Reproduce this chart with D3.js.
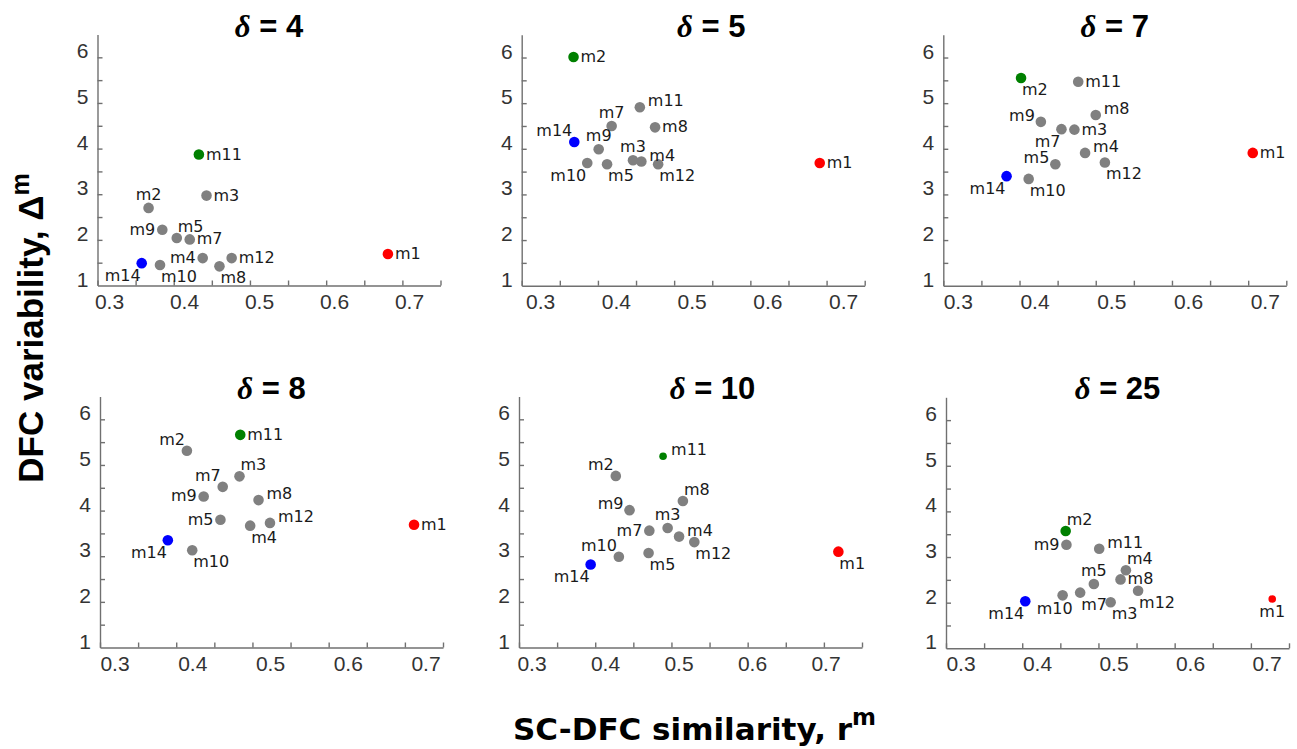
<!DOCTYPE html>
<html>
<head>
<meta charset="utf-8">
<script src="https://cdn.jsdelivr.net/npm/d3@7"></script>
<style>
	body { margin: 0; background: #fff; }
</style>
</head>
<body>
<script>
// data //{{{
var deltas = [4, 5, 7, 8, 10, 25];
var models = ["m1", "m2", "m3", "m4", "m5", "m7", "m8", "m9", "m10", "m11", "m12", "m14"];

// SC-DFC similarity r^m, one array per delta, in models order
var sim_d4  = [0.681, 0.367, 0.443, 0.438, 0.404, 0.421, 0.460, 0.385, 0.382, 0.433, 0.476, 0.358];
var sim_d5  = [0.691, 0.368, 0.446, 0.457, 0.412, 0.418, 0.475, 0.401, 0.386, 0.455, 0.479, 0.369];
var sim_d7  = [0.706, 0.402, 0.472, 0.486, 0.447, 0.455, 0.500, 0.428, 0.412, 0.477, 0.512, 0.383];
var sim_d8  = [0.712, 0.414, 0.483, 0.497, 0.458, 0.461, 0.508, 0.436, 0.421, 0.484, 0.523, 0.389];
var sim_d10 = [0.719, 0.427, 0.495, 0.510, 0.470, 0.471, 0.515, 0.445, 0.431, 0.489, 0.530, 0.394];
var sim_d25 = [0.728, 0.457, 0.516, 0.536, 0.494, 0.476, 0.529, 0.458, 0.453, 0.501, 0.552, 0.404];

// DFC variability Delta^m
var var_d4  = [1.69, 2.70, 2.97, 1.60, 2.04, 2.01, 1.42, 2.22, 1.45, 3.87, 1.60, 1.49];
var var_d5  = [3.69, 6.01, 3.75, 3.72, 3.66, 4.50, 4.47, 3.99, 3.69, 4.91, 3.66, 4.15];
var var_d7  = [3.91, 5.55, 4.42, 3.91, 3.66, 4.43, 4.74, 4.59, 3.34, 5.47, 3.70, 3.40];
var var_d8  = [3.69, 5.31, 4.75, 3.67, 3.80, 4.52, 4.23, 4.31, 3.13, 5.66, 3.73, 3.35];
var var_d10 = [3.10, 4.76, 3.62, 3.43, 3.07, 3.56, 4.21, 4.01, 2.99, 5.19, 3.31, 2.82];
var var_d25 = [2.08, 3.57, 2.01, 2.71, 2.41, 2.22, 2.51, 3.27, 2.16, 3.18, 2.26, 2.03];

var red_model   = "m1";
var blue_model  = "m14";
var green_model = ["m11", "m2", "m2", "m11", "m11", "m2"];

var x_ticks = [0.3, 0.35, 0.4, 0.45, 0.5, 0.55, 0.6, 0.65, 0.7, 0.75];
var x_labels = [0.3, 0.4, 0.5, 0.6, 0.7];
var y_ticks = [1.5, 2, 2.5, 3, 3.5, 4, 4.5, 5, 5.5, 6];
var y_labels = [1, 2, 3, 4, 5, 6];
//}}}
// label spots (r l ur ul a ar al b bw br bl), in models order //{{{
var spots = [
	["r", "a", "r", "l", "ar", "r", "br", "l", "br", "r", "r", "bl"],
	["r", "r", "a", "ur", "br", "a", "r", "a", "bl", "ur", "br", "al"],
	["r", "br", "r", "ur", "ul", "bl", "ur", "ul", "br", "r", "br", "bl"],
	["r", "al", "ar", "br", "l", "al", "ur", "l", "br", "r", "ur", "bl"],
	["br", "al", "a", "ur", "br", "l", "ar", "ul", "al", "ur", "br", "bl"],
	["b", "ar", "br", "ar", "a", "br", "r", "l", "bw", "ur", "br", "bl"]
];
var spot_geom = {
	r:  { a: "start",  dx: 7,  dy: 5 },
	l:  { a: "end",    dx: -7, dy: 5 },
	ur: { a: "start",  dx: 8,  dy: -1 },
	ul: { a: "end",    dx: -6, dy: -1 },
	a:  { a: "middle", dx: 0,  dy: -8 },
	ar: { a: "start",  dx: 1,  dy: -6 },
	al: { a: "end",    dx: -2, dy: -6 },
	b:  { a: "middle", dx: 0,  dy: 18 },
	bw: { a: "middle", dx: -8, dy: 19 },
	br: { a: "start",  dx: 1,  dy: 17 },
	bl: { a: "end",    dx: -1, dy: 18 }
};
//}}}
// layout //{{{
var W = 1297, H = 749;
var pw = 343, ph = 251;
var sans = "'Liberation Sans', Arial, sans-serif";
var dejavu = "'DejaVu Sans', sans-serif";
var panels = [
	{ left: 97.5,  bottom: 285.5, lab: [12, 312], tdx: 0,  small: null },
	{ left: 521.7, bottom: 285.7, lab: [19, 322], tdx: 18, small: null },
	{ left: 943.3, bottom: 285.7, lab: [15, 322], tdx: 0,  small: null },
	{ left: 100,   bottom: 647.5, lab: [15, 326], tdx: 0,  small: null },
	{ left: 519,   bottom: 647.5, lab: [13, 307], tdx: 22, small: "m11" },
	{ left: 946,   bottom: 648.3, lab: [15, 321], tdx: 0,  small: "m1" }
];
var sims = [sim_d4, sim_d5, sim_d7, sim_d8, sim_d10, sim_d25];
var vars = [var_d4, var_d5, var_d7, var_d8, var_d10, var_d25];
//}}}

var svg = d3.select("body").append("svg").attr("width", W).attr("height", H);
svg.append("rect").attr("width", W).attr("height", H).attr("fill", "#fff");

var x = d3.scaleLinear().domain([0.3, 0.75]).range([0, pw]);
var y = d3.scaleLinear().domain([1, 6.5]).range([ph, 0]);

function dot_color(m, i) {
	if (m == red_model) { return "#ff0000"; }
	if (m == blue_model) { return "#0000ff"; }
	if (m == green_model[i]) { return "#008000"; }
	return "#808080";
}

function panel(i) { //{{{
	var p = panels[i];
	var g = svg.append("g").attr("transform", "translate(" + p.left + "," + (p.bottom - ph) + ")");

	g.append("g").attr("transform", "translate(0," + ph + ")")
		.call(d3.axisBottom(x).tickValues(x_ticks).tickSizeInner(-5).tickSizeOuter(0).tickFormat(""));
	g.append("g")
		.call(d3.axisLeft(y).tickValues(y_ticks).tickSizeInner(-5).tickSizeOuter(0).tickFormat(""));
	g.selectAll(".domain, .tick line").attr("stroke", "#707070").attr("stroke-width", 1.4);

	// tick labels sit a bit off the ticks in the original
	var xl = d3.scaleLinear().domain([0.3, 0.7]).range(p.lab);
	g.selectAll(".xl").data(x_labels).enter().append("text")
		.attr("x", function(d) { return xl(d); })
		.attr("y", ph + 23)
		.attr("text-anchor", "middle")
		.attr("font-family", sans)
		.attr("font-size", 21)
		.attr("fill", "#333")
		.text(function(d) { return d3.format(".1f")(d); });
	g.selectAll(".yl").data(y_labels).enter().append("text")
		.attr("x", -9)
		.attr("y", function(d) { return y(d) + 1; })
		.attr("text-anchor", "end")
		.attr("font-family", sans)
		.attr("font-size", 21)
		.attr("fill", "#333")
		.text(function(d) { return d; });

	var title = g.append("text")
		.attr("x", pw / 2 + p.tdx)
		.attr("y", 2)
		.attr("text-anchor", "middle")
		.attr("font-family", sans)
		.attr("font-size", 31)
		.attr("font-weight", "bold")
		.attr("fill", "#000");
	title.append("tspan").attr("font-family", "'Liberation Serif', serif").attr("font-style", "italic").text("δ");
	title.append("tspan").text(" = " + deltas[i]);

	var pts = models.map(function(m, k) {
		return { m: m, r: sims[i][k], d: vars[i][k], s: spots[i][k] };
	});

	g.selectAll(".pt").data(pts).enter().append("circle")
		.attr("cx", function(d) { return x(d.r); })
		.attr("cy", function(d) { return y(d.d); })
		.attr("r", function(d) { return d.m == p.small ? 3.8 : 5.3; })
		.attr("fill", function(d) { return dot_color(d.m, i); });

	g.selectAll(".lb").data(pts).enter().append("text")
		.attr("x", function(d) { return x(d.r) + spot_geom[d.s].dx; })
		.attr("y", function(d) { return y(d.d) + spot_geom[d.s].dy; })
		.attr("text-anchor", function(d) { return spot_geom[d.s].a; })
		.attr("font-family", dejavu)
		.attr("font-size", 16)
		.attr("fill", "#1a1a1a")
		.text(function(d) { return d.m; });
}
//}}}

for (var i = 0; i < deltas.length; i++) { panel(i); }

// axis titles //{{{
var yt = svg.append("text")
	.attr("transform", "translate(43,328) rotate(-90)")
	.attr("text-anchor", "middle")
	.attr("font-family", sans)
	.attr("font-size", 35)
	.attr("font-weight", "bold")
	.attr("fill", "#000");
yt.append("tspan").text("DFC variability, Δ");
yt.append("tspan").attr("font-size", 25).attr("dy", -14).text("m");

var xt = svg.append("text")
	.attr("x", 513)
	.attr("y", 740)
	.attr("font-family", dejavu)
	.attr("font-size", 31)
	.attr("font-weight", "bold")
	.attr("fill", "#000");
xt.append("tspan").text("SC-DFC similarity, r");
xt.append("tspan").attr("font-size", 23).attr("dy", -15).text("m");
//}}}
</script>
</body>
</html>
